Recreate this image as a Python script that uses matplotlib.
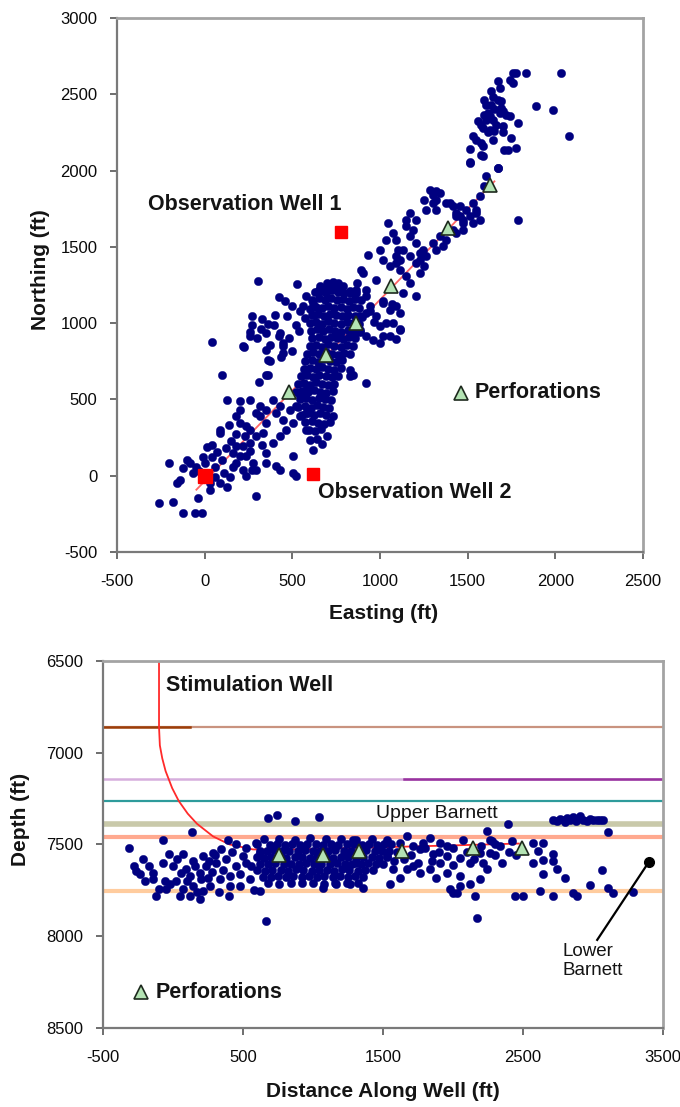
import numpy as np
import matplotlib.pyplot as plt

plt.rcParams['font.family'] = ['Liberation Sans', 'DejaVu Sans']
plt.rcParams['axes.unicode_minus'] = False

NAVY = '#000080'
TXT = '#141414'

# ---- plan view: microseismic events (easting, northing) in ft ----
plan_tail = [
    (-260, -178), (-182, -170), (-125, -242), (-57, -242), (-17, -242), (-205, 85), (-160, -46),
    (-143, -26), (-125, 52), (-85, 85), (-68, 20), (-40, -144), (28, -92), (28, -50), (85, -46),
    (125, -72), (142, -7), (-11, 125), (11, 190), (40, 203), (68, 157), (85, 301), (85, 280),
    (125, 498), (97, 662), (40, 878), (200, 487), (200, 432), (181, 389), (200, 347), (238, 323),
    (257, 301), (295, 413), (314, 389), (352, 347), (333, 281), (295, 258), (257, 214), (219, 192),
    (181, 192), (162, 149), (200, 127), (238, 127), (276, 85), (295, 39), (219, 39), (181, 85),
    (238, -4), (295, -135), (408, 61), (428, 39), (503, 20), (523, -4), (503, 127), (428, 258),
    (390, 214), (352, 149), (466, 301), (503, 347), (580, 301), (599, 236), (618, 170), (447, 367),
    (408, 413), (390, 498), (428, 454), (485, 432), (523, 454), (542, 520), (580, 413), (542, 389),
    (580, 563), (352, 432), (314, 454), (257, 498), (360, 662), (360, 760), (352, 826), (219, 847),
    (257, 913), (352, 937), (428, 937), (447, 847), (447, 804),
    (-100, 100), (-50, 60), (0, 80), (40, 120), (60, 60), (100, 100), (120, 180), (150, 230),
    (20, 20), (60, -10), (-30, 30), (110, 20), (160, 60), (180, 270), (140, 330), (230, 260),
    (260, 160), (270, 40), (330, 200), (350, 80),
]

plan_lobe = [
    (306, 1276), (529, 1259), (269, 1044), (269, 986), (422, 1171), (460, 1148), (497, 1113),
    (472, 1044), (546, 1078), (323, 962), (360, 997), (398, 986), (261, 939), (224, 846),
    (422, 916), (447, 870), (373, 858), (435, 777), (373, 754), (348, 661), (311, 614),
    (571, 1033), (621, 1056), (522, 986), (300, 900), (330, 1030), (400, 1050), (480, 900),
    (500, 820), (540, 950),
]

plan_core = [
    (700, 1265), (730, 1272), (760, 1262), (745, 1245), (715, 1242), (680, 1232), (772, 1236), (650, 1220),
    (630, 1205), (665, 1212), (695, 1200), (728, 1215), (760, 1205), (795, 1198), (830, 1210), (862, 1196),
    (615, 1150), (650, 1162), (685, 1152), (720, 1166), (755, 1150), (790, 1160), (825, 1148), (858, 1158), (890, 1150),
    (600, 1095), (635, 1108), (670, 1100), (705, 1112), (740, 1096), (775, 1106), (810, 1094), (845, 1104), (878, 1098),
    (610, 1050), (645, 1058), (680, 1046), (715, 1062), (750, 1050), (785, 1044), (820, 1056), (855, 1048), (895, 1040),
    (600, 1000), (635, 1008), (670, 996), (705, 1012), (740, 1000), (775, 992), (810, 1006), (845, 998), (880, 994),
    (605, 950), (640, 958), (675, 946), (710, 962), (745, 950), (780, 944), (815, 956), (850, 950), (888, 940),
    (615, 900), (650, 908), (685, 896), (720, 912), (755, 900), (790, 894), (825, 906), (860, 900),
    (600, 850), (635, 858), (670, 846), (705, 862), (740, 850), (775, 844), (810, 856), (845, 852),
    (585, 800), (620, 808), (655, 796), (690, 812), (725, 800), (760, 794), (795, 806), (830, 800),
    (575, 750), (610, 758), (645, 746), (680, 762), (715, 750), (750, 744), (785, 756),
    (565, 700), (600, 708), (635, 696), (670, 712), (705, 700), (740, 694), (775, 704),
    (550, 650), (585, 658), (620, 646), (655, 662), (690, 650), (725, 644), (760, 654),
    (530, 600), (565, 608), (600, 596), (635, 612), (670, 600), (705, 594), (740, 604),
    (520, 550), (555, 558), (590, 546), (625, 562), (660, 550), (695, 544), (730, 554),
    (545, 500), (580, 508), (615, 496), (650, 512), (685, 500), (720, 494),
    (535, 450), (570, 458), (605, 446), (640, 462), (675, 450), (710, 444),
    (555, 400), (590, 408), (625, 396), (660, 412), (695, 400), (730, 394),
    (575, 350), (610, 358), (645, 346), (680, 340), (715, 352),
    (595, 300), (630, 292), (665, 306), (700, 262), (640, 240), (670, 210),
]

plan_mid = [
    (931, 1448), (893, 1350), (901, 1330), (979, 1284), (1044, 1658), (1093, 1546), (1101, 1481),
    (1112, 1415), (1093, 1394), (1169, 1723), (1150, 1634), (1186, 1612), (1169, 1568), (1207, 1525),
    (1245, 1481), (1226, 1415), (1254, 1372), (1283, 1874), (1300, 1841), (1321, 1808), (1340, 1852),
    (1254, 1808), (1378, 1787), (1414, 1765), (1435, 1723), (1454, 1700), (1492, 1743), (1511, 1700),
    (1549, 1723), (1568, 1678), (1473, 1656), (1435, 1590), (1378, 1546), (1340, 1568), (1300, 1525),
    (1321, 1481), (1359, 1503), (1264, 1438), (1226, 1459), (1150, 1678), (1207, 1678), (1264, 1743),
    (1300, 1787), (1321, 1743), (1321, 1863), (1568, 1830), (1606, 1961), (1671, 2018), (1511, 2051),
    (1578, 2104), (1785, 1678), (1169, 1263), (1207, 1175), (1129, 1199), (1093, 1110), (1112, 1068),
    (1055, 1088), (1015, 1134), (979, 1044), (998, 978), (1036, 1002), (1072, 1002), (1112, 957),
    (1055, 913), (1015, 913), (958, 891), (922, 913), (884, 957), (922, 1068), (884, 1044), (941, 1110),
    (998, 871), (827, 695), (827, 651), (922, 609), (730, 1263), (787, 1240), (827, 1199), (865, 1219),
    (922, 1175), (656, 1240), (618, 1134), (580, 1175), (561, 1110), (869, 1264), (918, 1218),
    (943, 1078), (968, 1009), (1017, 1148), (1067, 1125), (1117, 962), (1092, 893), (844, 661),
    (1017, 1415), (1055, 1372), (1112, 1350), (1150, 1306), (998, 1481), (1036, 1546), (1074, 1590),
    (1131, 1481), (1169, 1437), (1207, 1394), (1093, 1437), (1226, 1330),
]

plan_upper = [
    (1758, 2639), (1777, 2639), (1834, 2639), (2034, 2639), (1739, 2595), (1758, 2573), (1671, 2584),
    (1682, 2540), (1634, 2518), (1644, 2485), (1596, 2464), (1606, 2431), (1634, 2431), (1671, 2464),
    (1691, 2453), (1891, 2424), (1985, 2394), (1596, 2366), (1615, 2378), (1625, 2355), (1606, 2333),
    (1644, 2333), (1682, 2378), (1701, 2387), (1720, 2366), (1739, 2355), (1558, 2322), (1577, 2300),
    (1587, 2281), (1625, 2268), (1653, 2256), (1786, 2313), (1530, 2224), (1549, 2202), (1577, 2181),
    (1587, 2158), (1748, 2214), (1710, 2136), (1729, 2136), (1777, 2149), (2081, 2224), (1511, 2143),
    (1587, 2093), (1511, 2053), (1671, 2016), (1596, 1896), (1397, 1787), (1454, 1765), (1530, 1787),
    (1549, 1743), (1473, 1678), (1435, 1700), (1530, 1656), (1473, 1612), (1416, 1612),
    (1653, 2400), (1691, 2410), (1663, 2300), (1701, 2290), (1615, 2250), (1644, 2200), (1700, 2250),
]

perf_east = [480, 694, 861, 1064, 1386, 1625]
perf_north = [548, 793, 1003, 1240, 1625, 1907]
lateral_east = [-47, 1653]
lateral_north = [-92, 1929]
obs_names = ['Observation Well 1', 'Observation Well 2']
obs_east = [780, 620]
obs_north = [1600, 10]
stim_east, stim_north = 0, 0

# ---- section view: events along the well (distance, depth) in ft ----
sec_west = [
    (-314, 7518), (-71, 7473), (138, 7433), (-214, 7578), (-262, 7645), (-238, 7663), (-143, 7654),
    (-71, 7600), (-143, 7690), (-119, 7781), (71, 7554), (-60, 7699), (-24, 7717), (-48, 7744),
    (48, 7781), (119, 7781), (190, 7799), (60, 7654), (95, 7636), (143, 7590), (214, 7563),
    (286, 7545), (345, 7527), (393, 7473), (452, 7500), (524, 7600), (452, 7618), (405, 7672),
    (333, 7690), (262, 7726), (214, 7753), (143, 7726), (119, 7672), (190, 7654), (238, 7618),
    (310, 7600), (381, 7581), (500, 7563), (548, 7690), (476, 7726), (405, 7726), (-280, 7620),
    (-200, 7700), (0, 7620), (20, 7700), (30, 7580), (100, 7700), (160, 7620), (170, 7760),
    (250, 7680), (280, 7650), (300, 7560), (360, 7640), (420, 7540), (480, 7660), (520, 7520),
    (560, 7620), (580, 7750), (400, 7780), (330, 7760), (260, 7590), (200, 7690), (70, 7740),
    (-100, 7740), (-170, 7620), (-30, 7550), (619, 7753), (667, 7917), (595, 7491), (619, 7545),
]

sec_core = [
    (650, 7472), (760, 7468), (870, 7474), (980, 7466), (1090, 7472), (1200, 7470), (1310, 7476),
    (1420, 7468), (1530, 7474),
    (600, 7500), (690, 7504), (740, 7498), (800, 7502), (850, 7496), (910, 7504), (960, 7500),
    (1020, 7498), (1070, 7504), (1130, 7496), (1180, 7502), (1240, 7500), (1290, 7498), (1350, 7504),
    (1400, 7496), (1460, 7502), (1510, 7500), (1560, 7498),
    (620, 7535), (670, 7538), (720, 7532), (780, 7536), (830, 7534), (890, 7538), (940, 7532),
    (1000, 7536), (1050, 7534), (1110, 7538), (1160, 7532), (1220, 7536), (1270, 7534), (1330, 7538),
    (1380, 7532), (1440, 7536), (1490, 7534), (1540, 7538),
    (600, 7570), (650, 7572), (700, 7568), (760, 7570), (810, 7574), (870, 7566), (920, 7570),
    (980, 7572), (1030, 7568), (1090, 7570), (1140, 7574), (1200, 7566), (1250, 7570), (1310, 7572),
    (1360, 7568), (1420, 7570), (1470, 7574), (1530, 7566),
    (620, 7605), (680, 7608), (730, 7602), (790, 7606), (840, 7604), (900, 7608), (950, 7602),
    (1010, 7606), (1060, 7604), (1120, 7608), (1170, 7602), (1230, 7606), (1280, 7604), (1340, 7608),
    (1390, 7602), (1450, 7606), (1500, 7604),
    (600, 7640), (660, 7642), (710, 7638), (770, 7640), (820, 7644), (880, 7636), (930, 7640),
    (990, 7642), (1040, 7638), (1100, 7640), (1150, 7644), (1210, 7636), (1260, 7640), (1320, 7642),
    (1370, 7638), (1430, 7640),
    (640, 7675), (700, 7678), (750, 7672), (810, 7676), (860, 7674), (920, 7678), (970, 7672),
    (1030, 7676), (1080, 7674), (1140, 7678), (1190, 7672), (1250, 7676), (1300, 7674), (1360, 7678),
    (680, 7710), (760, 7714), (840, 7708), (920, 7712), (1000, 7710), (1080, 7714), (1160, 7708),
    (1240, 7712), (1320, 7710),
    (681, 7355), (741, 7337), (871, 7373), (1045, 7352), (1286, 7473), (1310, 7600), (1357, 7735),
    (1262, 7717), (1167, 7717), (1071, 7735),
]

sec_east = [
    (1669, 7455), (1836, 7464), (1907, 7491), (2240, 7427), (2264, 7473), (2574, 7491), (2645, 7491),
    (2610, 7536), (2717, 7554), (2717, 7591), (2645, 7582), (2574, 7600), (2741, 7636), (2800, 7681),
    (2645, 7663), (2621, 7754), (2717, 7781), (2443, 7781), (2502, 7781), (2860, 7763), (2883, 7781),
    (2978, 7723), (3062, 7639), (3110, 7735), (3145, 7763), (3288, 7759), (2169, 7899), (2157, 7781),
    (2002, 7763), (1979, 7745), (2121, 7717), (2050, 7672), (2193, 7690), (2240, 7636), (2217, 7600),
    (1955, 7654), (1907, 7600), (1836, 7636), (1764, 7654), (1717, 7618), (1669, 7636), (1574, 7636),
    (1550, 7717), (1479, 7527), (1526, 7563), (1764, 7527), (1860, 7554), (1955, 7563), (2050, 7572),
    (2264, 7545), (2193, 7545), (2336, 7509), (2074, 7473), (1788, 7491), (1955, 7509), (1717, 7509),
    (1621, 7491), (2050, 7726), (2026, 7763), (2395, 7391), (3105, 7433),
    (1600, 7540), (1650, 7580), (1700, 7560), (1750, 7600), (1800, 7520), (1850, 7590), (1900, 7540),
    (2000, 7520), (2100, 7540), (2150, 7580), (2200, 7510), (2300, 7560), (2350, 7600), (2400, 7540),
    (2280, 7480), (2120, 7600), (2000, 7610), (1880, 7680), (1620, 7680), (1580, 7590), (2300, 7500),
    (2420, 7480), (2450, 7560),
]

# shallow cluster near the toe
sec_toe = [
    (2716, 7364), (2740, 7370), (2764, 7362), (2790, 7368), (2812, 7358), (2836, 7366), (2860, 7350),
    (2885, 7360), (2907, 7346), (2931, 7364), (2955, 7370), (2979, 7360), (3000, 7368), (3026, 7364),
    (3050, 7366), (3074, 7364), (2800, 7375), (2880, 7372),
]

perf_dist = [756, 1068, 1327, 1634, 2145, 2491]
perf_depth = [7557, 7557, 7538, 7536, 7518, 7518]
well_dist = [-100, -100, -94, -77, -53, -6, 41, 105, 171, 286, 404, 571, 800, 1500, 2000, 2470]
well_depth = [6500, 6860, 6960, 7030, 7100, 7193, 7263, 7332, 7387, 7456, 7500, 7527, 7528, 7515, 7505, 7495]

# formation tops: depth, colour, width
tops_depth = [6858, 7145, 7264, 7387, 7457, 7755]
tops_color = ['#c9937f', '#d6aedd', '#2e9b9b', '#c9c9aa', '#ffa98f', '#ffcc9e']
tops_width = [1.6, 1.8, 1.6, 4.0, 3.0, 3.0]
# darker stretches of two of the tops
dark_tops = [(6858, -500, 120, '#9c3d08'), (7145, 1650, 3500, '#99339f')]

lower_barnett_pt = (3400, 7594)
lower_barnett_lbl = (3030, 8020)

DOT = 36


def unzip(points):
    a = np.array(points, dtype=float)
    return a[:, 0], a[:, 1]


def style_axes(ax):
    for s in ['top', 'right']:
        ax.spines[s].set_color('#a3a3a3')
        ax.spines[s].set_linewidth(2.0)
    for s in ['left', 'bottom']:
        ax.spines[s].set_color('#7a7a7a')
        ax.spines[s].set_linewidth(1.6)
    ax.tick_params(axis='both', direction='out', length=5, width=1.2, color='#555555',
                   labelsize=12, labelcolor='#0a0a0a')
    ax.tick_params(axis='x', pad=11)
    ax.tick_params(axis='y', pad=9)


fig = plt.figure(figsize=(6.8, 11.07), dpi=100)

# ---------------- plan view ----------------
ax1 = fig.add_axes([0.172, 0.5014, 0.7735, 0.4824])
ex, ny = unzip(plan_tail + plan_lobe + plan_core + plan_mid + plan_upper)
ax1.plot(lateral_east, lateral_north, color='#ff4a4a', lw=1.3, alpha=0.85, zorder=1)
ax1.scatter(ex, ny, s=DOT, color=NAVY, edgecolors=NAVY, linewidths=0.3, zorder=2)
ax1.plot(perf_east, perf_north, ls='none', marker='^', ms=10, mfc='#b3e3b3', mec='#1e2a1e',
         mew=1.2, zorder=4)
ax1.plot(obs_east, obs_north, ls='none', marker='s', ms=8.5, color='#ff0000', zorder=4)
ax1.plot([stim_east], [stim_north], ls='none', marker='s', ms=10, color='#ff0000', zorder=4)

ax1.text(-325, 1776, obs_names[0], fontsize=15.5, fontweight='bold', color=TXT,
         ha='left', va='center')
ax1.text(644, -111, obs_names[1], fontsize=15.5, fontweight='bold', color=TXT,
         ha='left', va='center')
ax1.plot([1465], [544], ls='none', marker='^', ms=10, mfc='#b3e3b3', mec='#1e2a1e', mew=1.2)
ax1.text(1539, 544, 'Perforations', fontsize=15.5, fontweight='bold', color=TXT,
         ha='left', va='center')

ax1.set_xlim(-500, 2500)
ax1.set_ylim(-500, 3000)
ax1.set_xticks(np.arange(-500, 2501, 500))
ax1.set_yticks(np.arange(-500, 3001, 500))
style_axes(ax1)
ax1.set_xlabel('Easting (ft)', fontsize=15, fontweight='bold', color=TXT)
ax1.set_ylabel('Northing (ft)', fontsize=15, fontweight='bold', color=TXT)
ax1.xaxis.set_label_coords(0.506, -0.098)
ax1.yaxis.set_label_coords(-0.128, 0.528)

# ---------------- section view ----------------
ax2 = fig.add_axes([0.1515, 0.0714, 0.8235, 0.3315])
for d, c, w in zip(tops_depth, tops_color, tops_width):
    ax2.axhline(d, color=c, lw=w, zorder=1)
for d, x0, x1, c in dark_tops:
    ax2.plot([x0, x1], [d, d], color=c, lw=1.8, zorder=1)

ax2.plot(well_dist, well_depth, color='#ff2a2a', lw=1.3, zorder=2)
for pts in (sec_west, sec_core, sec_east, sec_toe):
    dx, dz = unzip(pts)
    ax2.scatter(dx, dz, s=DOT, color=NAVY, edgecolors=NAVY, linewidths=0.3, zorder=3)
ax2.plot(perf_dist, perf_depth, ls='none', marker='^', ms=10, mfc='#b3e3b3', mec='#1e2a1e',
         mew=1.2, zorder=4)

ax2.plot([lower_barnett_lbl[0], lower_barnett_pt[0]], [lower_barnett_lbl[1], lower_barnett_pt[1]],
         color='black', lw=1.6, zorder=5)
ax2.plot([lower_barnett_pt[0]], [lower_barnett_pt[1]], marker='o', ms=7, color='black', zorder=5)

ax2.text(-50, 6636, 'Stimulation Well', fontsize=15.5, fontweight='bold', color=TXT,
         ha='left', va='center')
ax2.text(1450, 7330, 'Upper Barnett', fontsize=14, color=TXT, ha='left', va='center')
ax2.text(2779, 8137, 'Lower\nBarnett', fontsize=13.5, color=TXT, ha='left', va='center',
         linespacing=1.15)
ax2.plot([-226], [8306], ls='none', marker='^', ms=10, mfc='#b3e3b3', mec='#1e2a1e', mew=1.2)
ax2.text(-123, 8306, 'Perforations', fontsize=15.5, fontweight='bold', color=TXT,
         ha='left', va='center')

ax2.set_xlim(-500, 3500)
ax2.set_ylim(8500, 6500)
ax2.set_xticks(np.arange(-500, 3501, 1000))
ax2.set_yticks(np.arange(6500, 8501, 500))
style_axes(ax2)
ax2.set_xlabel('Distance Along Well (ft)', fontsize=15, fontweight='bold', color=TXT)
ax2.set_ylabel('Depth (ft)', fontsize=15, fontweight='bold', color=TXT)
ax2.xaxis.set_label_coords(0.5, -0.148)
ax2.yaxis.set_label_coords(-0.13, 0.567)

fig.savefig('out.png', dpi=100)
